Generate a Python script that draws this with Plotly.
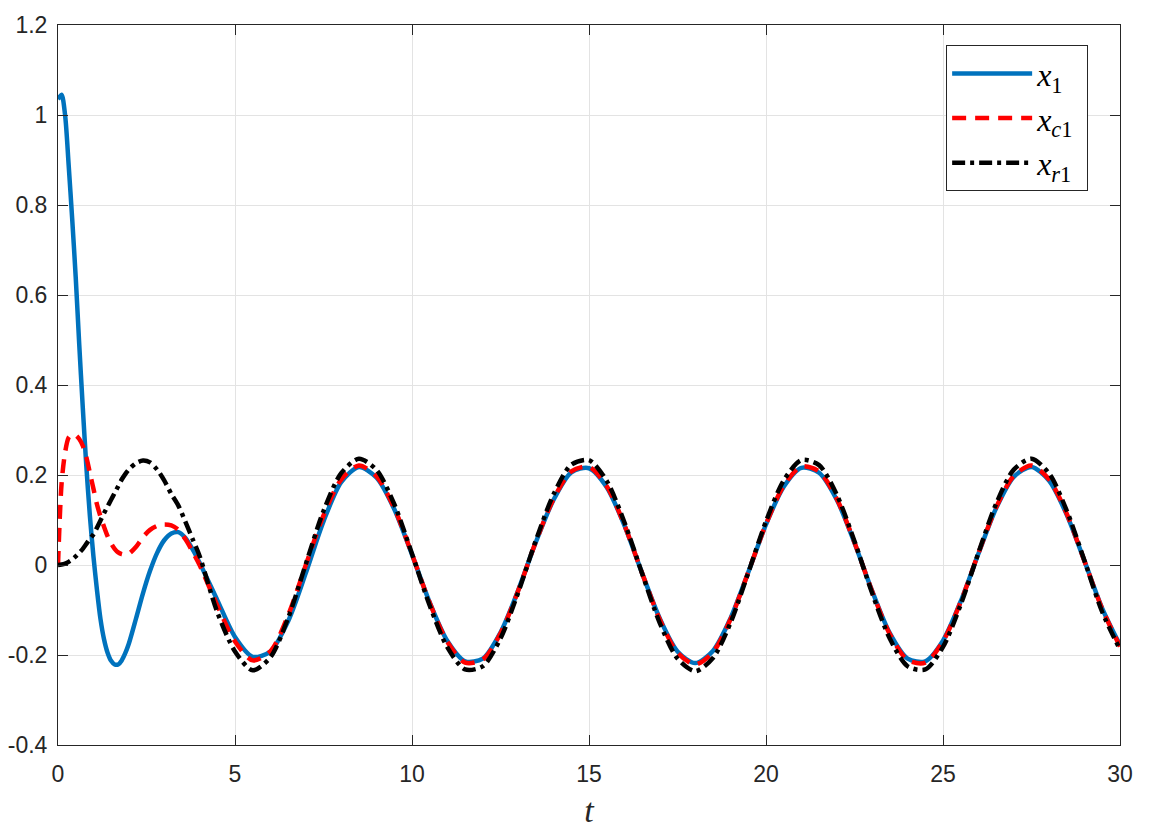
import plotly.graph_objects as go

# time samples (s)
t = [0.0, 0.1, 0.2, 0.3, 0.4, 0.5, 0.6, 0.7, 0.8, 0.9,
     1.0, 1.1, 1.2, 1.3, 1.4, 1.5, 1.6, 1.7, 1.8, 1.9,
     2.0, 2.2, 2.4, 2.6, 2.8, 3.0, 3.2, 3.4, 3.6, 3.8,
     4.0, 4.5, 5.0, 5.5, 6.0, 6.5, 7.0, 7.5, 8.0, 8.5,
     9.0, 9.5, 10.0, 10.5, 11.0, 11.5, 12.0, 12.5, 13.0, 13.5,
     14.0, 14.5, 15.0, 15.5, 16.0, 16.5, 17.0, 17.5, 18.0, 18.5,
     19.0, 19.5, 20.0, 20.5, 21.0, 21.5, 22.0, 22.5, 23.0, 23.5,
     24.0, 24.5, 25.0, 25.5, 26.0, 26.5, 27.0, 27.5, 28.0, 28.5,
     29.0, 29.5, 30.0]

x1 = [1.035, 1.045, 1.000, 0.890, 0.770, 0.640, 0.490, 0.350, 0.220, 0.110,
      0.020, -0.055, -0.120, -0.165, -0.195, -0.213, -0.221, -0.221, -0.212, -0.196,
      -0.175, -0.120, -0.063, -0.013, 0.027, 0.055, 0.070, 0.073, 0.060, 0.035,
      0.005, -0.078, -0.160, -0.204, -0.192, -0.125, -0.018, 0.097, 0.184, 0.218,
      0.194, 0.124, 0.023, -0.083, -0.169, -0.214, -0.208, -0.150, -0.056, 0.051,
      0.145, 0.206, 0.215, 0.173, 0.088, -0.018, -0.119, -0.192, -0.218, -0.191,
      -0.118, -0.016, 0.090, 0.174, 0.216, 0.205, 0.145, 0.049, -0.058, -0.152,
      -0.208, -0.214, -0.168, -0.081, 0.025, 0.126, 0.196, 0.218, 0.187, 0.111,
      0.008, -0.097, -0.178]

xc1 = [0.000, 0.180, 0.250, 0.283, 0.290, 0.288, 0.280, 0.265, 0.240, 0.205,
       0.170, 0.135, 0.108, 0.085, 0.064, 0.048, 0.036, 0.028, 0.024, 0.023,
       0.025, 0.040, 0.062, 0.078, 0.087, 0.090, 0.088, 0.078, 0.057, 0.030,
       0.000, -0.090, -0.170, -0.212, -0.192, -0.112, 0.000, 0.110, 0.190, 0.221,
       0.197, 0.126, 0.024, -0.084, -0.171, -0.217, -0.210, -0.152, -0.057, 0.052,
       0.147, 0.208, 0.218, 0.175, 0.089, -0.018, -0.121, -0.195, -0.221, -0.194,
       -0.120, -0.016, 0.091, 0.176, 0.219, 0.208, 0.147, 0.050, -0.059, -0.154,
       -0.211, -0.217, -0.170, -0.082, 0.026, 0.128, 0.198, 0.221, 0.190, 0.113,
       0.008, -0.098, -0.181]

xr1 = [0.000, 0.001, 0.003, 0.007, 0.012, 0.019, 0.027, 0.036, 0.047, 0.058,
       0.068, 0.083, 0.099, 0.115, 0.130, 0.145, 0.160, 0.175, 0.190, 0.202,
       0.212, 0.226, 0.232, 0.228, 0.212, 0.188, 0.158, 0.132, 0.096, 0.058,
       0.020, -0.105, -0.192, -0.234, -0.205, -0.118, 0.002, 0.120, 0.204, 0.236,
       0.211, 0.135, 0.025, -0.090, -0.183, -0.232, -0.225, -0.163, -0.061, 0.055,
       0.157, 0.223, 0.233, 0.187, 0.095, -0.019, -0.129, -0.208, -0.236, -0.207,
       -0.128, -0.017, 0.097, 0.188, 0.233, 0.222, 0.156, 0.053, -0.063, -0.164,
       -0.225, -0.232, -0.182, -0.088, 0.027, 0.136, 0.212, 0.236, 0.203, 0.120,
       0.009, -0.105, -0.188]

x_ticks = [0, 5, 10, 15, 20, 25, 30]
x_ticktext = ["0", "5", "10", "15", "20", "25", "30"]
y_ticks = [-0.4, -0.2, 0, 0.2, 0.4, 0.6, 0.8, 1.0, 1.2]
y_ticktext = ["-0.4", "-0.2", "0", "0.2", "0.4", "0.6", "0.8", "1", "1.2"]

names = ["<i>x</i><sub>1</sub>&nbsp;&nbsp;",
         "<i>x</i><sub><i>c</i>1</sub>&nbsp;",
         "<i>x</i><sub><i>r</i>1</sub>&nbsp;"]

fig = go.Figure()
fig.add_trace(go.Scatter(x=t, y=x1, mode="lines", name=names[0], legendgroup="a",
                         line=dict(color="#0072BD", width=4.5, shape="spline", smoothing=0.8)))
fig.add_trace(go.Scatter(x=t, y=xc1, mode="lines", name=names[1], legendgroup="b",
                         line=dict(color="#FF0000", width=4.5, dash="14px,9px", shape="spline", smoothing=0.8)))
fig.add_trace(go.Scatter(x=t, y=xr1, mode="lines", name=names[2], legendgroup="c",
                         line=dict(color="#000000", width=4.5, dash="13px,5px,4px,5px", shape="spline", smoothing=0.8)))

axis_common = dict(
    showline=True, linecolor="#262626", linewidth=1, mirror="ticks",
    ticks="inside", ticklen=10, tickcolor="#262626", tickwidth=1,
    showgrid=True, gridcolor="#e3e3e3", gridwidth=1, zeroline=False,
    automargin=False,
    tickfont=dict(family="Liberation Sans, Arial, sans-serif", size=23, color="#262626"),
)

fig.update_layout(
    width=1141, height=821,
    margin=dict(l=50, r=29, t=17, b=84),
    paper_bgcolor="white", plot_bgcolor="white",
    xaxis=dict(range=[0, 30], tickvals=x_ticks, ticktext=x_ticktext, ticklabelstandoff=8,
               title=dict(text="<i>t</i>", font=dict(family="Liberation Serif, serif", size=34, color="#262626"),
                          standoff=18),
               **axis_common),
    yaxis=dict(range=[-0.4, 1.2], tickvals=y_ticks, ticktext=y_ticktext, ticklabelstandoff=5,
               **axis_common),
    legend=dict(x=0.970, y=0.972, xanchor="right", yanchor="top",
                bgcolor="white", bordercolor="#262626", borderwidth=1,
                font=dict(family="Liberation Serif, serif", size=32, color="#000000"),
                itemwidth=80, tracegroupgap=0),
    showlegend=True,
)

fig.write_html("out.html")
